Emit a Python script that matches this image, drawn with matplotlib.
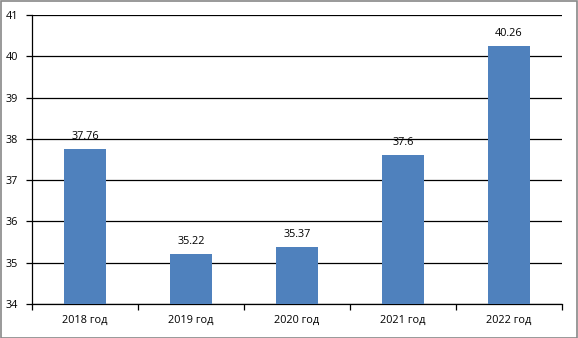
import matplotlib
matplotlib.use("Agg")
import matplotlib.pyplot as plt
from matplotlib.patches import Rectangle

categories = ["2018 год", "2019 год", "2020 год", "2021 год", "2022 год"]
values = [37.76, 35.22, 35.37, 37.6, 40.26]
value_labels = ["37.76", "35.22", "35.37", "37.6", "40.26"]
y_ticks = [34, 35, 36, 37, 38, 39, 40, 41]

plt.rcParams['font.family'] = ['Open Sans', 'DejaVu Sans']

fig = plt.figure(figsize=(5.78, 3.38), dpi=100)
ax = fig.add_axes([32/578, 1 - 304/338, (562-32)/578, (304-15)/338])

x = list(range(len(categories)))
ax.bar(x, [v - 34 for v in values], bottom=34, width=0.4, color="#4F81BD", zorder=3)

for xi, v, lab in zip(x, values, value_labels):
    ax.annotate(lab, (xi, v), xytext=(0, 5), textcoords="offset points",
                ha="center", va="bottom", fontsize=7.8, color="#000000", zorder=4)

ax.set_xlim(-0.5, len(categories) - 0.5)
ax.set_ylim(34, 41)
ax.set_yticks(y_ticks)
ax.set_yticklabels([str(t) for t in y_ticks], fontsize=7.8)
ax.yaxis.grid(True, color="black", linewidth=0.9, zorder=0)

ax.set_xticks(x)
ax.set_xticklabels(categories, fontsize=7.8)
ax.tick_params(axis="x", length=0, pad=8)
ax.set_xticks([i - 0.5 for i in range(len(categories) + 1)], minor=True)
ax.tick_params(axis="x", which="minor", length=4, width=0.9, direction="out", color="black")
ax.tick_params(axis="y", length=4, width=0.9, direction="out", pad=6)

for s in ["top", "right"]:
    ax.spines[s].set_visible(False)
for s in ["left", "bottom"]:
    ax.spines[s].set_linewidth(0.9)
    ax.spines[s].set_color("black")

fig.patches.append(Rectangle((0.5/578, 0.5/338), 576.5/578, 336.5/338, transform=fig.transFigure,
                             fill=False, edgecolor="#888888", linewidth=1.2))

fig.savefig("out.png", dpi=100)
